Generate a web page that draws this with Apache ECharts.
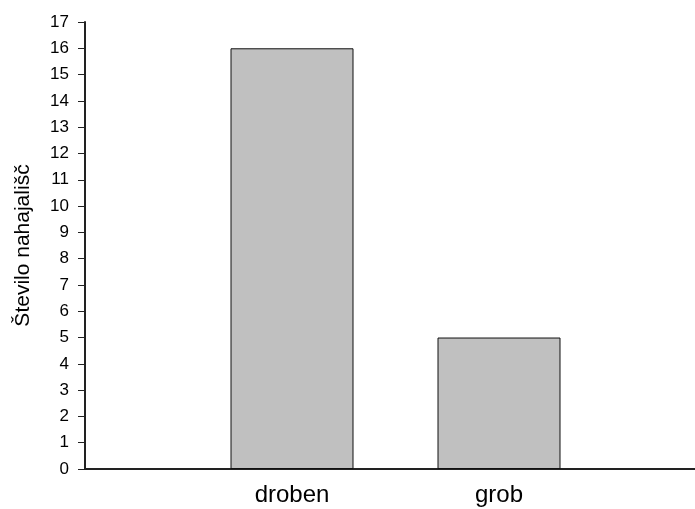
<!DOCTYPE html>
<html><head><meta charset="utf-8">
<script src="https://cdn.jsdelivr.net/npm/echarts@6/dist/echarts.min.js"></script>
<style>html,body{margin:0;padding:0;background:#fff}#c{width:695px;height:509px}</style>
</head><body><div id="c"></div>
<script>
var categories = ['', 'droben', 'grob', ''];
var values = [null, 16, 5, null];
var yTicks = [0, 17, 1];
var yName = 'Število nahajališč';
var chart = echarts.init(document.getElementById('c'), null, {renderer: 'canvas'});
chart.setOption({
  animation: false,
  grid: {left: 85, width: 621, top: 22, height: 447, containLabel: false, outerBoundsMode: 'none'},
  xAxis: {
    type: 'category', data: categories, boundaryGap: false,
    axisLine: {lineStyle: {color: '#222', width: 2}},
    axisTick: {show: false},
    axisLabel: {color: '#000', fontFamily: 'Liberation Sans', fontSize: 24, margin: 14, interval: 0}
  },
  yAxis: {
    type: 'value', min: yTicks[0], max: yTicks[1], interval: yTicks[2],
    name: yName, nameLocation: 'middle', nameGap: 51, nameRotate: 90,
    nameTextStyle: {color: '#000', fontFamily: 'Liberation Sans', fontSize: 21},
    axisLine: {show: true, lineStyle: {color: '#222', width: 2}},
    axisTick: {show: true, length: 7, lineStyle: {color: '#222', width: 1}},
    splitLine: {show: false},
    axisLabel: {color: '#000', fontFamily: 'Liberation Sans', fontSize: 17, margin: 16}
  },
  series: [{
    type: 'bar', data: values, barWidth: 123,
    itemStyle: {color: '#c0c0c0', borderColor: '#111', borderWidth: 1}
  }]
});
</script></body></html>
